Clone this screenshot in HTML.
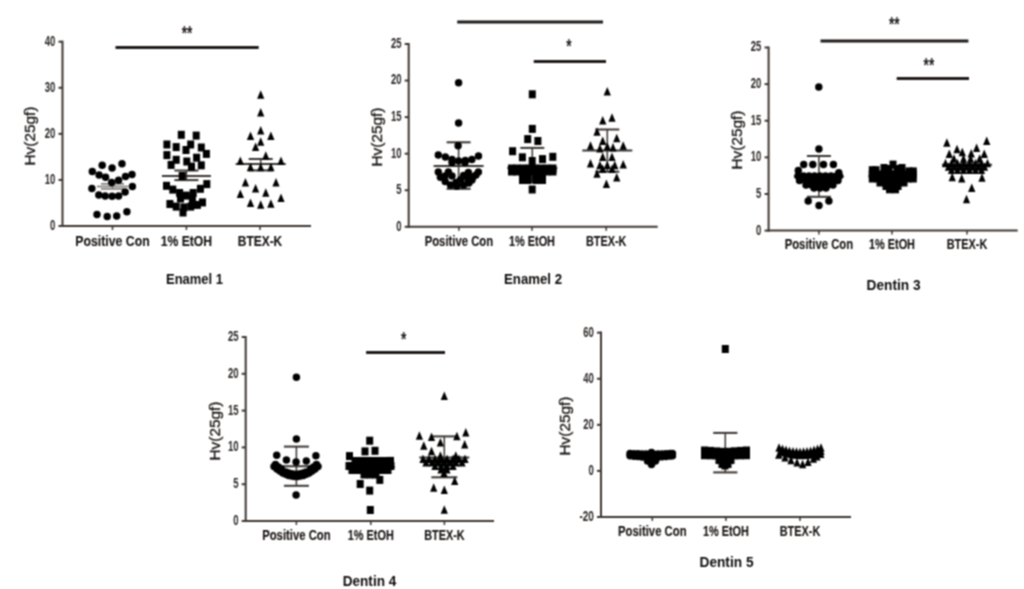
<!DOCTYPE html>
<html><head><meta charset="utf-8"><style>
html,body{margin:0;padding:0;background:#fff;}
body{width:1024px;height:589px;overflow:hidden;}
svg{display:block;}
text{font-family:"Liberation Sans", sans-serif;}
</style></head><body>
<svg width="1024" height="589" viewBox="0 0 1024 589">
<defs><filter id="bl" filterUnits="userSpaceOnUse" x="0" y="0" width="1024" height="589" color-interpolation-filters="sRGB"><feConvolveMatrix order="3" kernelMatrix="1 2 1 2 4 2 1 2 1" divisor="16" edgeMode="duplicate"/></filter></defs>
<g filter="url(#bl)">
<rect width="1024" height="589" fill="#fff"/>
<line x1="62.5" y1="40.7" x2="62.5" y2="227" stroke="#3d3531" stroke-width="2"/>
<line x1="61.5" y1="226" x2="311" y2="226" stroke="#3d3531" stroke-width="2"/>
<line x1="58.5" y1="226.0" x2="62.5" y2="226.0" stroke="#3d3531" stroke-width="2"/>
<text x="55.3" y="229.9" font-size="14.5" font-weight="bold" text-anchor="end" fill="#2b2725" textLength="5.3" lengthAdjust="spacingAndGlyphs" >0</text>
<line x1="58.5" y1="179.925" x2="62.5" y2="179.925" stroke="#3d3531" stroke-width="2"/>
<text x="55.3" y="183.82500000000002" font-size="14.5" font-weight="bold" text-anchor="end" fill="#2b2725" textLength="10.6" lengthAdjust="spacingAndGlyphs" >10</text>
<line x1="58.5" y1="133.85" x2="62.5" y2="133.85" stroke="#3d3531" stroke-width="2"/>
<text x="55.3" y="137.75" font-size="14.5" font-weight="bold" text-anchor="end" fill="#2b2725" textLength="10.6" lengthAdjust="spacingAndGlyphs" >20</text>
<line x1="58.5" y1="87.775" x2="62.5" y2="87.775" stroke="#3d3531" stroke-width="2"/>
<text x="55.3" y="91.67500000000001" font-size="14.5" font-weight="bold" text-anchor="end" fill="#2b2725" textLength="10.6" lengthAdjust="spacingAndGlyphs" >30</text>
<line x1="58.5" y1="41.69999999999999" x2="62.5" y2="41.69999999999999" stroke="#3d3531" stroke-width="2"/>
<text x="55.3" y="45.59999999999999" font-size="14.5" font-weight="bold" text-anchor="end" fill="#2b2725" textLength="10.6" lengthAdjust="spacingAndGlyphs" >40</text>
<line x1="112.5" y1="226" x2="112.5" y2="230" stroke="#3d3531" stroke-width="1.5"/>
<text x="112.5" y="246.3" font-size="14.5" font-weight="bold" text-anchor="middle" fill="#161311" textLength="74.5" lengthAdjust="spacingAndGlyphs" stroke="#161311" stroke-width="0.12">Positive Con</text>
<line x1="186.4" y1="226" x2="186.4" y2="230" stroke="#3d3531" stroke-width="1.5"/>
<text x="186.4" y="246.3" font-size="14.5" font-weight="bold" text-anchor="middle" fill="#161311" textLength="51.5" lengthAdjust="spacingAndGlyphs" stroke="#161311" stroke-width="0.12">1% EtOH</text>
<line x1="260" y1="226" x2="260" y2="230" stroke="#3d3531" stroke-width="1.5"/>
<text x="260" y="246.3" font-size="14.5" font-weight="bold" text-anchor="middle" fill="#161311" textLength="44.5" lengthAdjust="spacingAndGlyphs" stroke="#161311" stroke-width="0.12">BTEX-K</text>
<text x="194.5" y="284" font-size="15" font-weight="bold" text-anchor="middle" fill="#0e0c0b" textLength="57" lengthAdjust="spacingAndGlyphs" >Enamel 1</text>
<text x="29.5" y="136" font-size="15.5" font-weight="normal" stroke="#161311" stroke-width="0.3" text-anchor="middle" fill="#161311" transform="rotate(-90 29.5 136)" dominant-baseline="central" textLength="59" lengthAdjust="spacingAndGlyphs">Hv(25gf)</text>
<line x1="97.0" y1="186.5" x2="128.0" y2="186.5" stroke="#7d7672" stroke-width="1.6"/>
<line x1="101.0" y1="183.8" x2="124.0" y2="183.8" stroke="#7d7672" stroke-width="1.6"/>
<line x1="101.0" y1="188.9" x2="124.0" y2="188.9" stroke="#7d7672" stroke-width="1.6"/>
<line x1="112.5" y1="183.8" x2="112.5" y2="188.9" stroke="#7d7672" stroke-width="1.5"/>
<line x1="161.9" y1="175.9" x2="210.9" y2="175.9" stroke="#3a3430" stroke-width="2"/>
<line x1="174.4" y1="170.5" x2="198.4" y2="170.5" stroke="#3a3430" stroke-width="2"/>
<line x1="174.4" y1="180.1" x2="198.4" y2="180.1" stroke="#3a3430" stroke-width="2"/>
<line x1="186.4" y1="170.5" x2="186.4" y2="180.1" stroke="#3a3430" stroke-width="1.5"/>
<line x1="235.7" y1="164" x2="285.7" y2="164" stroke="#3a3430" stroke-width="2"/>
<line x1="248.7" y1="159" x2="272.7" y2="159" stroke="#3a3430" stroke-width="2"/>
<line x1="248.7" y1="170.4" x2="272.7" y2="170.4" stroke="#3a3430" stroke-width="2"/>
<line x1="260.7" y1="159" x2="260.7" y2="170.4" stroke="#3a3430" stroke-width="1.5"/>
<g fill="#000">
<ellipse cx="102.2" cy="165.3" rx="3.7" ry="3.75"/>
<ellipse cx="112.1" cy="168" rx="3.7" ry="3.75"/>
<ellipse cx="122" cy="163.8" rx="3.7" ry="3.75"/>
<ellipse cx="92.3" cy="171.5" rx="3.7" ry="3.75"/>
<ellipse cx="99.1" cy="174.9" rx="3.7" ry="3.75"/>
<ellipse cx="105.6" cy="177.2" rx="3.7" ry="3.75"/>
<ellipse cx="111.7" cy="182.5" rx="3.7" ry="3.75"/>
<ellipse cx="118.6" cy="180.2" rx="3.7" ry="3.75"/>
<ellipse cx="125.5" cy="176.4" rx="3.7" ry="3.75"/>
<ellipse cx="132" cy="174.5" rx="3.7" ry="3.75"/>
<ellipse cx="91.9" cy="188.6" rx="3.7" ry="3.75"/>
<ellipse cx="132.4" cy="186.4" rx="3.7" ry="3.75"/>
<ellipse cx="98.8" cy="195.1" rx="3.7" ry="3.75"/>
<ellipse cx="105.2" cy="195.9" rx="3.7" ry="3.75"/>
<ellipse cx="112.1" cy="196.3" rx="3.7" ry="3.75"/>
<ellipse cx="118.6" cy="195.9" rx="3.7" ry="3.75"/>
<ellipse cx="125.1" cy="192.1" rx="3.7" ry="3.75"/>
<ellipse cx="97" cy="214.6" rx="3.7" ry="3.75"/>
<ellipse cx="107.2" cy="216.6" rx="3.7" ry="3.75"/>
<ellipse cx="116.7" cy="216" rx="3.7" ry="3.75"/>
<ellipse cx="126.9" cy="211.8" rx="3.7" ry="3.75"/>
<rect x="177.8" y="130.8" width="7" height="8"/>
<rect x="192.7" y="131.6" width="7" height="8"/>
<rect x="163.4" y="140.5" width="7" height="8"/>
<rect x="172.7" y="143.1" width="7" height="8"/>
<rect x="187.2" y="140.5" width="7" height="8"/>
<rect x="197.8" y="143.5" width="7" height="8"/>
<rect x="182.5" y="146.0" width="7" height="8"/>
<rect x="163.4" y="151.1" width="7" height="8"/>
<rect x="202.9" y="149.9" width="7" height="8"/>
<rect x="172.7" y="155.8" width="7" height="8"/>
<rect x="193.1" y="153.7" width="7" height="8"/>
<rect x="183.3" y="157.5" width="7" height="8"/>
<rect x="167.6" y="160.9" width="7" height="8"/>
<rect x="197.8" y="161.3" width="7" height="8"/>
<rect x="188.0" y="162.6" width="7" height="8"/>
<rect x="178.7" y="172.0" width="7" height="8"/>
<rect x="163.0" y="181.8" width="7" height="8"/>
<rect x="203.3" y="180.1" width="7" height="8"/>
<rect x="169.3" y="185.6" width="7" height="8"/>
<rect x="196.9" y="184.8" width="7" height="8"/>
<rect x="176.1" y="189.0" width="7" height="8"/>
<rect x="189.7" y="189.0" width="7" height="8"/>
<rect x="182.9" y="191.6" width="7" height="8"/>
<rect x="177.0" y="194.5" width="7" height="8"/>
<rect x="188.9" y="195.0" width="7" height="8"/>
<rect x="166.4" y="200.0" width="7" height="8"/>
<rect x="199.0" y="198.4" width="7" height="8"/>
<rect x="172.7" y="202.6" width="7" height="8"/>
<rect x="180.4" y="203.4" width="7" height="8"/>
<rect x="187.2" y="202.6" width="7" height="8"/>
<rect x="193.9" y="200.9" width="7" height="8"/>
<rect x="179.5" y="208.5" width="7" height="8"/>
<path d="M260.7 90.2L264.3 98.7L257.1 98.7Z"/>
<path d="M260.7 108.0L264.3 116.5L257.1 116.5Z"/>
<path d="M260.7 125.9L264.3 134.4L257.1 134.4Z"/>
<path d="M250.5 131.5L254.2 140.0L246.8 140.0Z"/>
<path d="M270.9 131.5L274.5 140.0L267.2 140.0Z"/>
<path d="M260.7 137.3L264.3 145.8L257.1 145.8Z"/>
<path d="M255.6 142.4L259.2 150.9L251.9 150.9Z"/>
<path d="M240.3 156.4L244.0 164.9L236.7 164.9Z"/>
<path d="M265.8 151.3L269.4 159.8L262.2 159.8Z"/>
<path d="M281.0 156.4L284.6 164.9L277.4 164.9Z"/>
<path d="M250.5 162.8L254.2 171.3L246.8 171.3Z"/>
<path d="M260.7 162.8L264.3 171.3L257.1 171.3Z"/>
<path d="M270.9 162.8L274.5 171.3L267.2 171.3Z"/>
<path d="M245.4 178.1L249.1 186.6L241.8 186.6Z"/>
<path d="M276.0 178.1L279.6 186.6L272.4 186.6Z"/>
<path d="M255.6 183.9L259.2 192.4L251.9 192.4Z"/>
<path d="M265.8 188.3L269.4 196.8L262.2 196.8Z"/>
<path d="M240.3 189.5L244.0 198.0L236.7 198.0Z"/>
<path d="M250.5 198.5L254.2 207.0L246.8 207.0Z"/>
<path d="M260.7 200.2L264.3 208.7L257.1 208.7Z"/>
<path d="M270.9 199.2L274.5 207.7L267.2 207.7Z"/>
<path d="M281.0 193.4L284.6 201.9L277.4 201.9Z"/>
</g>
<line x1="115.5" y1="47.5" x2="258.7" y2="47.5" stroke="#1e1a18" stroke-width="3"/>
<text x="187.1" y="39.7" font-size="20" font-weight="bold" text-anchor="middle" fill="#1e1a18" textLength="10.6" lengthAdjust="spacingAndGlyphs" >**</text>
<line x1="408.7" y1="43" x2="408.7" y2="227.8" stroke="#3d3531" stroke-width="2"/>
<line x1="407.7" y1="226.8" x2="657.7" y2="226.8" stroke="#3d3531" stroke-width="2"/>
<line x1="404.7" y1="226.8" x2="408.7" y2="226.8" stroke="#3d3531" stroke-width="2"/>
<text x="401.5" y="230.70000000000002" font-size="14.5" font-weight="bold" text-anchor="end" fill="#2b2725" textLength="5.3" lengthAdjust="spacingAndGlyphs" >0</text>
<line x1="404.7" y1="190.24" x2="408.7" y2="190.24" stroke="#3d3531" stroke-width="2"/>
<text x="401.5" y="194.14000000000001" font-size="14.5" font-weight="bold" text-anchor="end" fill="#2b2725" textLength="5.3" lengthAdjust="spacingAndGlyphs" >5</text>
<line x1="404.7" y1="153.68" x2="408.7" y2="153.68" stroke="#3d3531" stroke-width="2"/>
<text x="401.5" y="157.58" font-size="14.5" font-weight="bold" text-anchor="end" fill="#2b2725" textLength="10.6" lengthAdjust="spacingAndGlyphs" >10</text>
<line x1="404.7" y1="117.12" x2="408.7" y2="117.12" stroke="#3d3531" stroke-width="2"/>
<text x="401.5" y="121.02000000000001" font-size="14.5" font-weight="bold" text-anchor="end" fill="#2b2725" textLength="10.6" lengthAdjust="spacingAndGlyphs" >15</text>
<line x1="404.7" y1="80.56" x2="408.7" y2="80.56" stroke="#3d3531" stroke-width="2"/>
<text x="401.5" y="84.46000000000001" font-size="14.5" font-weight="bold" text-anchor="end" fill="#2b2725" textLength="10.6" lengthAdjust="spacingAndGlyphs" >20</text>
<line x1="404.7" y1="44.0" x2="408.7" y2="44.0" stroke="#3d3531" stroke-width="2"/>
<text x="401.5" y="47.9" font-size="14.5" font-weight="bold" text-anchor="end" fill="#2b2725" textLength="10.6" lengthAdjust="spacingAndGlyphs" >25</text>
<line x1="458.9" y1="226.8" x2="458.9" y2="230.8" stroke="#3d3531" stroke-width="1.5"/>
<text x="458.9" y="246" font-size="14.5" font-weight="bold" text-anchor="middle" fill="#161311" textLength="68.5" lengthAdjust="spacingAndGlyphs" stroke="#161311" stroke-width="0.12">Positive Con</text>
<line x1="532" y1="226.8" x2="532" y2="230.8" stroke="#3d3531" stroke-width="1.5"/>
<text x="532" y="246" font-size="14.5" font-weight="bold" text-anchor="middle" fill="#161311" textLength="46" lengthAdjust="spacingAndGlyphs" stroke="#161311" stroke-width="0.12">1% EtOH</text>
<line x1="606.2" y1="226.8" x2="606.2" y2="230.8" stroke="#3d3531" stroke-width="1.5"/>
<text x="606.2" y="246" font-size="14.5" font-weight="bold" text-anchor="middle" fill="#161311" textLength="40.5" lengthAdjust="spacingAndGlyphs" stroke="#161311" stroke-width="0.12">BTEX-K</text>
<text x="533" y="284" font-size="15" font-weight="bold" text-anchor="middle" fill="#0e0c0b" textLength="58" lengthAdjust="spacingAndGlyphs" >Enamel 2</text>
<text x="376.3" y="137" font-size="15.5" font-weight="normal" stroke="#161311" stroke-width="0.3" text-anchor="middle" fill="#161311" transform="rotate(-90 376.3 137)" dominant-baseline="central" textLength="59" lengthAdjust="spacingAndGlyphs">Hv(25gf)</text>
<line x1="507.29999999999995" y1="168" x2="557.3" y2="168" stroke="#3a3430" stroke-width="2"/>
<line x1="520.3" y1="147.9" x2="544.3" y2="147.9" stroke="#3a3430" stroke-width="2"/>
<line x1="520.3" y1="182" x2="544.3" y2="182" stroke="#3a3430" stroke-width="2"/>
<line x1="532.3" y1="147.9" x2="532.3" y2="182" stroke="#3a3430" stroke-width="1.5"/>
<line x1="433.6" y1="166" x2="483.6" y2="166" stroke="#3a3430" stroke-width="2"/>
<line x1="446.6" y1="142.3" x2="470.6" y2="142.3" stroke="#3a3430" stroke-width="2"/>
<line x1="446.6" y1="188.8" x2="470.6" y2="188.8" stroke="#3a3430" stroke-width="2"/>
<line x1="458.6" y1="142.3" x2="458.6" y2="188.8" stroke="#3a3430" stroke-width="1.5"/>
<line x1="582.3" y1="150.6" x2="632.3" y2="150.6" stroke="#3a3430" stroke-width="2"/>
<line x1="595.3" y1="129.5" x2="619.3" y2="129.5" stroke="#3a3430" stroke-width="2"/>
<line x1="595.3" y1="171.7" x2="619.3" y2="171.7" stroke="#3a3430" stroke-width="2"/>
<line x1="607.3" y1="129.5" x2="607.3" y2="171.7" stroke="#3a3430" stroke-width="1.5"/>
<g fill="#000">
<ellipse cx="458.6" cy="82.8" rx="3.7" ry="3.75"/>
<ellipse cx="458.6" cy="123" rx="3.7" ry="3.75"/>
<ellipse cx="458.1" cy="145.7" rx="3.7" ry="3.75"/>
<ellipse cx="438.3" cy="154.9" rx="3.7" ry="3.75"/>
<ellipse cx="445.4" cy="156.9" rx="3.7" ry="3.75"/>
<ellipse cx="452" cy="159.5" rx="3.7" ry="3.75"/>
<ellipse cx="458.6" cy="161" rx="3.7" ry="3.75"/>
<ellipse cx="465.3" cy="160.5" rx="3.7" ry="3.75"/>
<ellipse cx="471.9" cy="159.5" rx="3.7" ry="3.75"/>
<ellipse cx="478.5" cy="155.9" rx="3.7" ry="3.75"/>
<ellipse cx="452" cy="162.5" rx="3.7" ry="3.75"/>
<ellipse cx="465" cy="162.5" rx="3.7" ry="3.75"/>
<ellipse cx="438.3" cy="171.9" rx="3.7" ry="3.75"/>
<ellipse cx="448.4" cy="171.9" rx="3.7" ry="3.75"/>
<ellipse cx="468.4" cy="172.4" rx="3.7" ry="3.75"/>
<ellipse cx="478.4" cy="171.9" rx="3.7" ry="3.75"/>
<ellipse cx="440.4" cy="177.2" rx="3.7" ry="3.75"/>
<ellipse cx="452" cy="176.1" rx="3.7" ry="3.75"/>
<ellipse cx="463.6" cy="175.6" rx="3.7" ry="3.75"/>
<ellipse cx="473.1" cy="176.7" rx="3.7" ry="3.75"/>
<ellipse cx="445.2" cy="181.4" rx="3.7" ry="3.75"/>
<ellipse cx="460.5" cy="179.8" rx="3.7" ry="3.75"/>
<ellipse cx="467.9" cy="179.3" rx="3.7" ry="3.75"/>
<ellipse cx="450.5" cy="185.1" rx="3.7" ry="3.75"/>
<ellipse cx="456.8" cy="186.2" rx="3.7" ry="3.75"/>
<ellipse cx="463.6" cy="185.1" rx="3.7" ry="3.75"/>
<ellipse cx="468.9" cy="183" rx="3.7" ry="3.75"/>
<ellipse cx="445" cy="176" rx="3.7" ry="3.75"/>
<ellipse cx="456" cy="182.5" rx="3.7" ry="3.75"/>
<ellipse cx="472" cy="180" rx="3.7" ry="3.75"/>
<ellipse cx="476" cy="175" rx="3.7" ry="3.75"/>
<rect x="528.8" y="90.3" width="7" height="8"/>
<rect x="528.8" y="124.9" width="7" height="8"/>
<rect x="524.2" y="135.1" width="7" height="8"/>
<rect x="534.4" y="137.0" width="7" height="8"/>
<rect x="509.1" y="147.2" width="7" height="8"/>
<rect x="518.9" y="153.3" width="7" height="8"/>
<rect x="539.0" y="155.1" width="7" height="8"/>
<rect x="549.3" y="152.8" width="7" height="8"/>
<rect x="528.7" y="157.0" width="7" height="8"/>
<rect x="528.7" y="185.5" width="7" height="8"/>
<rect x="508.0" y="164.5" width="7" height="8"/>
<rect x="513.5" y="164.5" width="7" height="8"/>
<rect x="519.5" y="164.5" width="7" height="8"/>
<rect x="525.5" y="164.5" width="7" height="8"/>
<rect x="531.5" y="164.5" width="7" height="8"/>
<rect x="537.5" y="164.5" width="7" height="8"/>
<rect x="543.5" y="164.5" width="7" height="8"/>
<rect x="549.5" y="164.5" width="7" height="8"/>
<rect x="508.0" y="167.5" width="7" height="8"/>
<rect x="513.5" y="167.5" width="7" height="8"/>
<rect x="519.5" y="167.5" width="7" height="8"/>
<rect x="525.5" y="167.5" width="7" height="8"/>
<rect x="531.5" y="167.5" width="7" height="8"/>
<rect x="537.5" y="167.5" width="7" height="8"/>
<rect x="543.5" y="167.5" width="7" height="8"/>
<rect x="549.5" y="167.5" width="7" height="8"/>
<rect x="519.0" y="173.0" width="7" height="8"/>
<rect x="524.5" y="173.0" width="7" height="8"/>
<rect x="532.5" y="173.0" width="7" height="8"/>
<rect x="539.0" y="173.0" width="7" height="8"/>
<rect x="519.0" y="176.0" width="7" height="8"/>
<rect x="524.5" y="176.0" width="7" height="8"/>
<rect x="532.5" y="176.0" width="7" height="8"/>
<rect x="539.0" y="176.0" width="7" height="8"/>
<path d="M607.3 87.0L610.9 95.5L603.6 95.5Z"/>
<path d="M602.7 116.0L606.4 124.5L599.1 124.5Z"/>
<path d="M612.0 113.2L615.6 121.7L608.4 121.7Z"/>
<path d="M597.0 127.2L600.6 135.7L593.4 135.7Z"/>
<path d="M602.7 136.5L606.4 145.0L599.1 145.0Z"/>
<path d="M616.7 133.7L620.4 142.2L613.1 142.2Z"/>
<path d="M590.5 141.2L594.1 149.7L586.9 149.7Z"/>
<path d="M623.2 141.2L626.9 149.7L619.6 149.7Z"/>
<path d="M599.9 143.9L603.5 152.4L596.2 152.4Z"/>
<path d="M613.0 143.0L616.6 151.5L609.4 151.5Z"/>
<path d="M607.3 142.1L610.9 150.6L603.6 150.6Z"/>
<path d="M602.7 152.4L606.4 160.9L599.1 160.9Z"/>
<path d="M612.0 152.4L615.6 160.9L608.4 160.9Z"/>
<path d="M590.5 158.9L594.1 167.4L586.9 167.4Z"/>
<path d="M623.2 159.9L626.9 168.4L619.6 168.4Z"/>
<path d="M599.9 160.8L603.5 169.3L596.2 169.3Z"/>
<path d="M607.3 160.8L610.9 169.3L603.6 169.3Z"/>
<path d="M614.8 160.8L618.4 169.3L611.1 169.3Z"/>
<path d="M602.7 164.5L606.4 173.0L599.1 173.0Z"/>
<path d="M612.0 164.5L615.6 173.0L608.4 173.0Z"/>
<path d="M597.0 169.2L600.6 177.7L593.4 177.7Z"/>
<path d="M616.7 172.9L620.4 181.4L613.1 181.4Z"/>
<path d="M606.4 179.4L610.0 187.9L602.8 187.9Z"/>
</g>
<line x1="457.2" y1="22" x2="603" y2="22" stroke="#1e1a18" stroke-width="3"/>
<line x1="533.75" y1="61.6" x2="606" y2="61.6" stroke="#1e1a18" stroke-width="3"/>
<text x="569" y="53.2" font-size="20" font-weight="bold" text-anchor="middle" fill="#1e1a18" textLength="5.3" lengthAdjust="spacingAndGlyphs" >*</text>
<line x1="768.6" y1="46.5" x2="768.6" y2="231.6" stroke="#3d3531" stroke-width="2"/>
<line x1="767.6" y1="230.6" x2="1017.7" y2="230.6" stroke="#3d3531" stroke-width="2"/>
<line x1="764.6" y1="230.6" x2="768.6" y2="230.6" stroke="#3d3531" stroke-width="2"/>
<text x="761.4" y="234.5" font-size="14.5" font-weight="bold" text-anchor="end" fill="#2b2725" textLength="5.3" lengthAdjust="spacingAndGlyphs" >0</text>
<line x1="764.6" y1="193.98" x2="768.6" y2="193.98" stroke="#3d3531" stroke-width="2"/>
<text x="761.4" y="197.88" font-size="14.5" font-weight="bold" text-anchor="end" fill="#2b2725" textLength="5.3" lengthAdjust="spacingAndGlyphs" >5</text>
<line x1="764.6" y1="157.36" x2="768.6" y2="157.36" stroke="#3d3531" stroke-width="2"/>
<text x="761.4" y="161.26000000000002" font-size="14.5" font-weight="bold" text-anchor="end" fill="#2b2725" textLength="10.6" lengthAdjust="spacingAndGlyphs" >10</text>
<line x1="764.6" y1="120.74" x2="768.6" y2="120.74" stroke="#3d3531" stroke-width="2"/>
<text x="761.4" y="124.64" font-size="14.5" font-weight="bold" text-anchor="end" fill="#2b2725" textLength="10.6" lengthAdjust="spacingAndGlyphs" >15</text>
<line x1="764.6" y1="84.12" x2="768.6" y2="84.12" stroke="#3d3531" stroke-width="2"/>
<text x="761.4" y="88.02000000000001" font-size="14.5" font-weight="bold" text-anchor="end" fill="#2b2725" textLength="10.6" lengthAdjust="spacingAndGlyphs" >20</text>
<line x1="764.6" y1="47.5" x2="768.6" y2="47.5" stroke="#3d3531" stroke-width="2"/>
<text x="761.4" y="51.4" font-size="14.5" font-weight="bold" text-anchor="end" fill="#2b2725" textLength="10.6" lengthAdjust="spacingAndGlyphs" >25</text>
<line x1="818.9" y1="230.6" x2="818.9" y2="234.6" stroke="#3d3531" stroke-width="1.5"/>
<text x="818.9" y="249" font-size="14.5" font-weight="bold" text-anchor="middle" fill="#161311" textLength="68.5" lengthAdjust="spacingAndGlyphs" stroke="#161311" stroke-width="0.12">Positive Con</text>
<line x1="892" y1="230.6" x2="892" y2="234.6" stroke="#3d3531" stroke-width="1.5"/>
<text x="892" y="249" font-size="14.5" font-weight="bold" text-anchor="middle" fill="#161311" textLength="46" lengthAdjust="spacingAndGlyphs" stroke="#161311" stroke-width="0.12">1% EtOH</text>
<line x1="967" y1="230.6" x2="967" y2="234.6" stroke="#3d3531" stroke-width="1.5"/>
<text x="967" y="249" font-size="14.5" font-weight="bold" text-anchor="middle" fill="#161311" textLength="40.5" lengthAdjust="spacingAndGlyphs" stroke="#161311" stroke-width="0.12">BTEX-K</text>
<text x="893.6" y="290.2" font-size="15" font-weight="bold" text-anchor="middle" fill="#0e0c0b" textLength="54" lengthAdjust="spacingAndGlyphs" >Dentin 3</text>
<text x="736.0" y="140" font-size="15.5" font-weight="normal" stroke="#161311" stroke-width="0.3" text-anchor="middle" fill="#161311" transform="rotate(-90 736.0 140)" dominant-baseline="central" textLength="59" lengthAdjust="spacingAndGlyphs">Hv(25gf)</text>
<line x1="793.9" y1="176.6" x2="843.9" y2="176.6" stroke="#3a3430" stroke-width="2"/>
<line x1="806.9" y1="156" x2="830.9" y2="156" stroke="#3a3430" stroke-width="2"/>
<line x1="806.9" y1="196.8" x2="830.9" y2="196.8" stroke="#3a3430" stroke-width="2"/>
<line x1="818.9" y1="156" x2="818.9" y2="196.8" stroke="#3a3430" stroke-width="1.5"/>
<line x1="868.5" y1="176" x2="915.5" y2="176" stroke="#3a3430" stroke-width="2"/>
<line x1="942.0" y1="164.7" x2="992.0" y2="164.7" stroke="#3a3430" stroke-width="2"/>
<g fill="#000">
<ellipse cx="818.8" cy="87" rx="3.7" ry="3.75"/>
<ellipse cx="818.9" cy="149.1" rx="3.7" ry="3.75"/>
<ellipse cx="803.7" cy="164.4" rx="3.7" ry="3.75"/>
<ellipse cx="812.8" cy="164.4" rx="3.7" ry="3.75"/>
<ellipse cx="823.5" cy="164.4" rx="3.7" ry="3.75"/>
<ellipse cx="833.4" cy="164.4" rx="3.7" ry="3.75"/>
<ellipse cx="798.3" cy="170.5" rx="3.7" ry="3.75"/>
<ellipse cx="838.8" cy="172.7" rx="3.7" ry="3.75"/>
<ellipse cx="808.2" cy="201" rx="3.7" ry="3.75"/>
<ellipse cx="819" cy="205.6" rx="3.7" ry="3.75"/>
<ellipse cx="828.9" cy="201" rx="3.7" ry="3.75"/>
<ellipse cx="798" cy="176" rx="3.7" ry="3.75"/>
<ellipse cx="803.5" cy="176" rx="3.7" ry="3.75"/>
<ellipse cx="809" cy="176" rx="3.7" ry="3.75"/>
<ellipse cx="814.5" cy="176" rx="3.7" ry="3.75"/>
<ellipse cx="820" cy="176" rx="3.7" ry="3.75"/>
<ellipse cx="825.5" cy="176" rx="3.7" ry="3.75"/>
<ellipse cx="831" cy="176" rx="3.7" ry="3.75"/>
<ellipse cx="836.5" cy="176" rx="3.7" ry="3.75"/>
<ellipse cx="839.5" cy="176" rx="3.7" ry="3.75"/>
<ellipse cx="799.5" cy="180.5" rx="3.7" ry="3.75"/>
<ellipse cx="805.5" cy="180.5" rx="3.7" ry="3.75"/>
<ellipse cx="811" cy="180.5" rx="3.7" ry="3.75"/>
<ellipse cx="816.5" cy="180.5" rx="3.7" ry="3.75"/>
<ellipse cx="822" cy="180.5" rx="3.7" ry="3.75"/>
<ellipse cx="827.5" cy="180.5" rx="3.7" ry="3.75"/>
<ellipse cx="833" cy="180.5" rx="3.7" ry="3.75"/>
<ellipse cx="838" cy="180.5" rx="3.7" ry="3.75"/>
<ellipse cx="806" cy="185" rx="3.7" ry="3.75"/>
<ellipse cx="811.5" cy="185" rx="3.7" ry="3.75"/>
<ellipse cx="817" cy="185" rx="3.7" ry="3.75"/>
<ellipse cx="822.5" cy="185" rx="3.7" ry="3.75"/>
<ellipse cx="828" cy="185" rx="3.7" ry="3.75"/>
<ellipse cx="833" cy="185" rx="3.7" ry="3.75"/>
<ellipse cx="814" cy="188" rx="3.7" ry="3.75"/>
<ellipse cx="820" cy="188" rx="3.7" ry="3.75"/>
<ellipse cx="826" cy="188" rx="3.7" ry="3.75"/>
<rect x="889.5" y="160.6" width="7" height="8"/>
<rect x="880.5" y="164.0" width="7" height="8"/>
<rect x="898.5" y="164.0" width="7" height="8"/>
<rect x="868.8" y="166.2" width="7" height="8"/>
<rect x="872.5" y="166.2" width="7" height="8"/>
<rect x="905.5" y="167.4" width="7" height="8"/>
<rect x="909.8" y="167.4" width="7" height="8"/>
<rect x="885.5" y="165.0" width="7" height="8"/>
<rect x="893.5" y="165.0" width="7" height="8"/>
<rect x="868.8" y="170.5" width="7" height="8"/>
<rect x="874.5" y="170.5" width="7" height="8"/>
<rect x="880.5" y="170.5" width="7" height="8"/>
<rect x="886.5" y="170.5" width="7" height="8"/>
<rect x="892.5" y="170.5" width="7" height="8"/>
<rect x="898.5" y="170.5" width="7" height="8"/>
<rect x="904.5" y="170.5" width="7" height="8"/>
<rect x="909.8" y="170.5" width="7" height="8"/>
<rect x="868.8" y="174.5" width="7" height="8"/>
<rect x="874.5" y="174.5" width="7" height="8"/>
<rect x="880.5" y="174.5" width="7" height="8"/>
<rect x="886.5" y="174.5" width="7" height="8"/>
<rect x="892.5" y="174.5" width="7" height="8"/>
<rect x="898.5" y="174.5" width="7" height="8"/>
<rect x="904.5" y="174.5" width="7" height="8"/>
<rect x="909.8" y="174.5" width="7" height="8"/>
<rect x="876.5" y="178.5" width="7" height="8"/>
<rect x="882.5" y="178.5" width="7" height="8"/>
<rect x="888.5" y="178.5" width="7" height="8"/>
<rect x="894.5" y="178.5" width="7" height="8"/>
<rect x="900.5" y="178.5" width="7" height="8"/>
<rect x="882.5" y="182.0" width="7" height="8"/>
<rect x="888.5" y="182.0" width="7" height="8"/>
<rect x="894.5" y="182.0" width="7" height="8"/>
<rect x="886.0" y="185.3" width="7" height="8"/>
<rect x="892.0" y="185.3" width="7" height="8"/>
<path d="M946.9 138.2L950.5 146.7L943.2 146.7Z"/>
<path d="M986.7 136.4L990.4 144.9L983.1 144.9Z"/>
<path d="M957.0 144.8L960.6 153.3L953.4 153.3Z"/>
<path d="M976.6 143.6L980.2 152.1L973.0 152.1Z"/>
<path d="M949.3 149.5L952.9 158.0L945.6 158.0Z"/>
<path d="M962.3 147.7L965.9 156.2L958.6 156.2Z"/>
<path d="M971.2 148.9L974.9 157.4L967.6 157.4Z"/>
<path d="M984.3 149.5L987.9 158.0L980.6 158.0Z"/>
<path d="M954.0 154.3L957.6 162.8L950.4 162.8Z"/>
<path d="M963.5 154.3L967.1 162.8L959.9 162.8Z"/>
<path d="M970.6 154.3L974.2 162.8L967.0 162.8Z"/>
<path d="M979.6 154.3L983.2 162.8L976.0 162.8Z"/>
<path d="M952.2 172.7L955.9 181.2L948.6 181.2Z"/>
<path d="M961.7 173.9L965.4 182.4L958.1 182.4Z"/>
<path d="M982.0 173.3L985.6 181.8L978.4 181.8Z"/>
<path d="M971.8 183.4L975.4 191.9L968.1 191.9Z"/>
<path d="M966.5 194.7L970.1 203.2L962.9 203.2Z"/>
<path d="M945.5 158.7L949.1 167.2L941.9 167.2Z"/>
<path d="M951.5 158.7L955.1 167.2L947.9 167.2Z"/>
<path d="M957.5 158.7L961.1 167.2L953.9 167.2Z"/>
<path d="M963.5 158.7L967.1 167.2L959.9 167.2Z"/>
<path d="M969.5 158.7L973.1 167.2L965.9 167.2Z"/>
<path d="M975.5 158.7L979.1 167.2L971.9 167.2Z"/>
<path d="M981.5 158.7L985.1 167.2L977.9 167.2Z"/>
<path d="M987.5 158.7L991.1 167.2L983.9 167.2Z"/>
<path d="M948.5 162.2L952.1 170.7L944.9 170.7Z"/>
<path d="M954.5 162.2L958.1 170.7L950.9 170.7Z"/>
<path d="M960.5 162.2L964.1 170.7L956.9 170.7Z"/>
<path d="M966.5 162.2L970.1 170.7L962.9 170.7Z"/>
<path d="M972.5 162.2L976.1 170.7L968.9 170.7Z"/>
<path d="M978.5 162.2L982.1 170.7L974.9 170.7Z"/>
<path d="M984.5 162.2L988.1 170.7L980.9 170.7Z"/>
<path d="M951.5 165.4L955.1 173.9L947.9 173.9Z"/>
<path d="M957.5 165.4L961.1 173.9L953.9 173.9Z"/>
<path d="M963.5 165.4L967.1 173.9L959.9 173.9Z"/>
<path d="M969.5 165.4L973.1 173.9L965.9 173.9Z"/>
<path d="M975.5 165.4L979.1 173.9L971.9 173.9Z"/>
<path d="M981.5 165.4L985.1 173.9L977.9 173.9Z"/>
</g>
<line x1="820.5" y1="40.9" x2="968.4" y2="40.9" stroke="#1e1a18" stroke-width="3"/>
<text x="894.3" y="30.9" font-size="20" font-weight="bold" text-anchor="middle" fill="#1e1a18" textLength="10.6" lengthAdjust="spacingAndGlyphs" >**</text>
<line x1="896.7" y1="78.4" x2="969" y2="78.4" stroke="#1e1a18" stroke-width="3"/>
<text x="928.9" y="72.0" font-size="20" font-weight="bold" text-anchor="middle" fill="#1e1a18" textLength="10.6" lengthAdjust="spacingAndGlyphs" >**</text>
<line x1="245.7" y1="336" x2="245.7" y2="522" stroke="#3d3531" stroke-width="2"/>
<line x1="244.7" y1="521" x2="494" y2="521" stroke="#3d3531" stroke-width="2"/>
<line x1="241.7" y1="521.0" x2="245.7" y2="521.0" stroke="#3d3531" stroke-width="2"/>
<text x="238.5" y="524.9" font-size="14.5" font-weight="bold" text-anchor="end" fill="#2b2725" textLength="5.3" lengthAdjust="spacingAndGlyphs" >0</text>
<line x1="241.7" y1="484.2" x2="245.7" y2="484.2" stroke="#3d3531" stroke-width="2"/>
<text x="238.5" y="488.09999999999997" font-size="14.5" font-weight="bold" text-anchor="end" fill="#2b2725" textLength="5.3" lengthAdjust="spacingAndGlyphs" >5</text>
<line x1="241.7" y1="447.4" x2="245.7" y2="447.4" stroke="#3d3531" stroke-width="2"/>
<text x="238.5" y="451.29999999999995" font-size="14.5" font-weight="bold" text-anchor="end" fill="#2b2725" textLength="10.6" lengthAdjust="spacingAndGlyphs" >10</text>
<line x1="241.7" y1="410.6" x2="245.7" y2="410.6" stroke="#3d3531" stroke-width="2"/>
<text x="238.5" y="414.5" font-size="14.5" font-weight="bold" text-anchor="end" fill="#2b2725" textLength="10.6" lengthAdjust="spacingAndGlyphs" >15</text>
<line x1="241.7" y1="373.79999999999995" x2="245.7" y2="373.79999999999995" stroke="#3d3531" stroke-width="2"/>
<text x="238.5" y="377.69999999999993" font-size="14.5" font-weight="bold" text-anchor="end" fill="#2b2725" textLength="10.6" lengthAdjust="spacingAndGlyphs" >20</text>
<line x1="241.7" y1="337.0" x2="245.7" y2="337.0" stroke="#3d3531" stroke-width="2"/>
<text x="238.5" y="340.9" font-size="14.5" font-weight="bold" text-anchor="end" fill="#2b2725" textLength="10.6" lengthAdjust="spacingAndGlyphs" >25</text>
<line x1="296.4" y1="521" x2="296.4" y2="525" stroke="#3d3531" stroke-width="1.5"/>
<text x="296.4" y="540" font-size="14.5" font-weight="bold" text-anchor="middle" fill="#161311" textLength="68.5" lengthAdjust="spacingAndGlyphs" stroke="#161311" stroke-width="0.12">Positive Con</text>
<line x1="370.8" y1="521" x2="370.8" y2="525" stroke="#3d3531" stroke-width="1.5"/>
<text x="370.8" y="540" font-size="14.5" font-weight="bold" text-anchor="middle" fill="#161311" textLength="46" lengthAdjust="spacingAndGlyphs" stroke="#161311" stroke-width="0.12">1% EtOH</text>
<line x1="444.4" y1="521" x2="444.4" y2="525" stroke="#3d3531" stroke-width="1.5"/>
<text x="444.4" y="540" font-size="14.5" font-weight="bold" text-anchor="middle" fill="#161311" textLength="40.5" lengthAdjust="spacingAndGlyphs" stroke="#161311" stroke-width="0.12">BTEX-K</text>
<text x="369.5" y="585.5" font-size="15" font-weight="bold" text-anchor="middle" fill="#0e0c0b" textLength="53.5" lengthAdjust="spacingAndGlyphs" >Dentin 4</text>
<text x="214.7" y="431" font-size="15.5" font-weight="normal" stroke="#161311" stroke-width="0.3" text-anchor="middle" fill="#161311" transform="rotate(-90 214.7 431)" dominant-baseline="central" textLength="59" lengthAdjust="spacingAndGlyphs">Hv(25gf)</text>
<line x1="271.4" y1="466.2" x2="321.4" y2="466.2" stroke="#3a3430" stroke-width="2"/>
<line x1="283.9" y1="446.6" x2="308.9" y2="446.6" stroke="#3a3430" stroke-width="2"/>
<line x1="283.9" y1="485.8" x2="308.9" y2="485.8" stroke="#3a3430" stroke-width="2"/>
<line x1="296.4" y1="446.6" x2="296.4" y2="485.8" stroke="#3a3430" stroke-width="1.5"/>
<line x1="346.8" y1="467" x2="394.8" y2="467" stroke="#3a3430" stroke-width="2"/>
<line x1="419.3" y1="457.4" x2="469.3" y2="457.4" stroke="#3a3430" stroke-width="2"/>
<line x1="431.3" y1="436.4" x2="457.3" y2="436.4" stroke="#3a3430" stroke-width="2"/>
<line x1="431.3" y1="477.3" x2="457.3" y2="477.3" stroke="#3a3430" stroke-width="2"/>
<line x1="444.3" y1="436.4" x2="444.3" y2="477.3" stroke="#3a3430" stroke-width="1.5"/>
<g fill="#000">
<ellipse cx="296.4" cy="377.3" rx="3.7" ry="3.75"/>
<ellipse cx="296.4" cy="438.9" rx="3.7" ry="3.75"/>
<ellipse cx="276.7" cy="455.3" rx="3.7" ry="3.75"/>
<ellipse cx="286.4" cy="459.9" rx="3.7" ry="3.75"/>
<ellipse cx="296.1" cy="461.9" rx="3.7" ry="3.75"/>
<ellipse cx="306.3" cy="460.9" rx="3.7" ry="3.75"/>
<ellipse cx="315.9" cy="455.8" rx="3.7" ry="3.75"/>
<ellipse cx="296.1" cy="495" rx="3.7" ry="3.75"/>
<ellipse cx="274.0" cy="466.5" rx="3.7" ry="3.75"/>
<ellipse cx="275.5" cy="464.5" rx="3.7" ry="3.75"/>
<ellipse cx="276.93333333333334" cy="468.9888888888889" rx="3.7" ry="3.75"/>
<ellipse cx="278.43333333333334" cy="466.9888888888889" rx="3.7" ry="3.75"/>
<ellipse cx="279.8666666666667" cy="471.1222222222222" rx="3.7" ry="3.75"/>
<ellipse cx="281.3666666666667" cy="469.1222222222222" rx="3.7" ry="3.75"/>
<ellipse cx="282.8" cy="472.9" rx="3.7" ry="3.75"/>
<ellipse cx="285.73333333333335" cy="474.32222222222225" rx="3.7" ry="3.75"/>
<ellipse cx="285.73333333333335" cy="472.02222222222224" rx="3.7" ry="3.75"/>
<ellipse cx="288.6666666666667" cy="475.3888888888889" rx="3.7" ry="3.75"/>
<ellipse cx="288.6666666666667" cy="473.0888888888889" rx="3.7" ry="3.75"/>
<ellipse cx="291.6" cy="476.1" rx="3.7" ry="3.75"/>
<ellipse cx="291.6" cy="473.8" rx="3.7" ry="3.75"/>
<ellipse cx="294.53333333333336" cy="476.4555555555556" rx="3.7" ry="3.75"/>
<ellipse cx="294.53333333333336" cy="474.15555555555557" rx="3.7" ry="3.75"/>
<ellipse cx="297.46666666666664" cy="476.4555555555556" rx="3.7" ry="3.75"/>
<ellipse cx="297.46666666666664" cy="474.15555555555557" rx="3.7" ry="3.75"/>
<ellipse cx="300.4" cy="476.1" rx="3.7" ry="3.75"/>
<ellipse cx="300.4" cy="473.8" rx="3.7" ry="3.75"/>
<ellipse cx="303.3333333333333" cy="475.3888888888889" rx="3.7" ry="3.75"/>
<ellipse cx="303.3333333333333" cy="473.0888888888889" rx="3.7" ry="3.75"/>
<ellipse cx="306.26666666666665" cy="474.32222222222225" rx="3.7" ry="3.75"/>
<ellipse cx="306.26666666666665" cy="472.02222222222224" rx="3.7" ry="3.75"/>
<ellipse cx="309.2" cy="472.9" rx="3.7" ry="3.75"/>
<ellipse cx="312.1333333333333" cy="471.1222222222222" rx="3.7" ry="3.75"/>
<ellipse cx="310.6333333333333" cy="469.1222222222222" rx="3.7" ry="3.75"/>
<ellipse cx="315.06666666666666" cy="468.9888888888889" rx="3.7" ry="3.75"/>
<ellipse cx="313.56666666666666" cy="466.9888888888889" rx="3.7" ry="3.75"/>
<ellipse cx="318.0" cy="466.5" rx="3.7" ry="3.75"/>
<ellipse cx="316.5" cy="464.5" rx="3.7" ry="3.75"/>
<rect x="366.2" y="436.7" width="7" height="8"/>
<rect x="361.5" y="447.4" width="7" height="8"/>
<rect x="371.5" y="446.8" width="7" height="8"/>
<rect x="346.0" y="452.1" width="7" height="8"/>
<rect x="387.0" y="456.9" width="7" height="8"/>
<rect x="356.7" y="480.0" width="7" height="8"/>
<rect x="376.3" y="475.9" width="7" height="8"/>
<rect x="366.2" y="486.6" width="7" height="8"/>
<rect x="366.8" y="506.0" width="7" height="8"/>
<rect x="351.5" y="457.0" width="7" height="8"/>
<rect x="357.5" y="457.0" width="7" height="8"/>
<rect x="363.5" y="457.0" width="7" height="8"/>
<rect x="369.5" y="457.0" width="7" height="8"/>
<rect x="375.5" y="457.0" width="7" height="8"/>
<rect x="381.5" y="457.0" width="7" height="8"/>
<rect x="345.5" y="462.0" width="7" height="8"/>
<rect x="351.5" y="462.0" width="7" height="8"/>
<rect x="357.5" y="462.0" width="7" height="8"/>
<rect x="363.5" y="462.0" width="7" height="8"/>
<rect x="369.5" y="462.0" width="7" height="8"/>
<rect x="375.5" y="462.0" width="7" height="8"/>
<rect x="381.5" y="462.0" width="7" height="8"/>
<rect x="387.5" y="462.0" width="7" height="8"/>
<rect x="348.5" y="466.0" width="7" height="8"/>
<rect x="354.5" y="466.0" width="7" height="8"/>
<rect x="360.5" y="466.0" width="7" height="8"/>
<rect x="366.5" y="466.0" width="7" height="8"/>
<rect x="372.5" y="466.0" width="7" height="8"/>
<rect x="378.5" y="466.0" width="7" height="8"/>
<rect x="384.5" y="466.0" width="7" height="8"/>
<rect x="360.5" y="470.5" width="7" height="8"/>
<rect x="366.5" y="470.5" width="7" height="8"/>
<rect x="372.5" y="470.5" width="7" height="8"/>
<path d="M444.3 391.5L447.9 400.0L440.7 400.0Z"/>
<path d="M419.4 431.3L423.0 439.8L415.8 439.8Z"/>
<path d="M431.5 432.4L435.1 440.9L427.9 440.9Z"/>
<path d="M456.9 431.7L460.5 440.2L453.2 440.2Z"/>
<path d="M465.8 428.0L469.4 436.5L462.2 436.5Z"/>
<path d="M423.8 441.3L427.4 449.8L420.2 449.8Z"/>
<path d="M440.4 437.9L444.0 446.4L436.8 446.4Z"/>
<path d="M464.7 440.1L468.3 448.6L461.1 448.6Z"/>
<path d="M431.5 446.8L435.1 455.3L427.9 455.3Z"/>
<path d="M440.4 451.2L444.0 459.7L436.8 459.7Z"/>
<path d="M455.8 451.2L459.4 459.7L452.2 459.7Z"/>
<path d="M454.7 476.6L458.3 485.1L451.1 485.1Z"/>
<path d="M433.7 483.2L437.3 491.7L430.1 491.7Z"/>
<path d="M444.3 485.5L447.9 494.0L440.7 494.0Z"/>
<path d="M444.3 505.3L447.9 513.8L440.7 513.8Z"/>
<path d="M423.0 454.4L426.6 462.9L419.4 462.9Z"/>
<path d="M429.0 454.4L432.6 462.9L425.4 462.9Z"/>
<path d="M435.0 454.4L438.6 462.9L431.4 462.9Z"/>
<path d="M441.0 454.4L444.6 462.9L437.4 462.9Z"/>
<path d="M447.0 454.4L450.6 462.9L443.4 462.9Z"/>
<path d="M453.0 454.4L456.6 462.9L449.4 462.9Z"/>
<path d="M459.0 454.4L462.6 462.9L455.4 462.9Z"/>
<path d="M465.0 454.4L468.6 462.9L461.4 462.9Z"/>
<path d="M426.0 457.9L429.6 466.4L422.4 466.4Z"/>
<path d="M432.0 457.9L435.6 466.4L428.4 466.4Z"/>
<path d="M438.0 457.9L441.6 466.4L434.4 466.4Z"/>
<path d="M444.0 457.9L447.6 466.4L440.4 466.4Z"/>
<path d="M450.0 457.9L453.6 466.4L446.4 466.4Z"/>
<path d="M456.0 457.9L459.6 466.4L452.4 466.4Z"/>
<path d="M462.0 457.9L465.6 466.4L458.4 466.4Z"/>
<path d="M435.0 461.4L438.6 469.9L431.4 469.9Z"/>
<path d="M441.0 461.4L444.6 469.9L437.4 469.9Z"/>
<path d="M447.0 461.4L450.6 469.9L443.4 469.9Z"/>
<path d="M453.0 461.4L456.6 469.9L449.4 469.9Z"/>
<path d="M441.0 464.9L444.6 473.4L437.4 473.4Z"/>
<path d="M447.0 464.9L450.6 473.4L443.4 473.4Z"/>
<path d="M444.0 468.4L447.6 476.9L440.4 476.9Z"/>
</g>
<line x1="366.1" y1="352.4" x2="445" y2="352.4" stroke="#1e1a18" stroke-width="3"/>
<text x="403.7" y="345.5" font-size="20" font-weight="bold" text-anchor="middle" fill="#1e1a18" textLength="5.3" lengthAdjust="spacingAndGlyphs" >*</text>
<line x1="601" y1="331.6" x2="601" y2="517.9" stroke="#3d3531" stroke-width="2"/>
<line x1="600" y1="516.9" x2="851" y2="516.9" stroke="#3d3531" stroke-width="2"/>
<line x1="597" y1="516.9749999999999" x2="601" y2="516.9749999999999" stroke="#3d3531" stroke-width="2"/>
<text x="593.8" y="520.8749999999999" font-size="14.5" font-weight="bold" text-anchor="end" fill="#2b2725" textLength="14.4" lengthAdjust="spacingAndGlyphs" >-20</text>
<line x1="597" y1="470.9" x2="601" y2="470.9" stroke="#3d3531" stroke-width="2"/>
<text x="593.8" y="474.79999999999995" font-size="14.5" font-weight="bold" text-anchor="end" fill="#2b2725" textLength="5.3" lengthAdjust="spacingAndGlyphs" >0</text>
<line x1="597" y1="424.825" x2="601" y2="424.825" stroke="#3d3531" stroke-width="2"/>
<text x="593.8" y="428.72499999999997" font-size="14.5" font-weight="bold" text-anchor="end" fill="#2b2725" textLength="10.6" lengthAdjust="spacingAndGlyphs" >20</text>
<line x1="597" y1="378.75" x2="601" y2="378.75" stroke="#3d3531" stroke-width="2"/>
<text x="593.8" y="382.65" font-size="14.5" font-weight="bold" text-anchor="end" fill="#2b2725" textLength="10.6" lengthAdjust="spacingAndGlyphs" >40</text>
<line x1="597" y1="332.675" x2="601" y2="332.675" stroke="#3d3531" stroke-width="2"/>
<text x="593.8" y="336.575" font-size="14.5" font-weight="bold" text-anchor="end" fill="#2b2725" textLength="10.6" lengthAdjust="spacingAndGlyphs" >60</text>
<line x1="652.3" y1="516.9" x2="652.3" y2="520.9" stroke="#3d3531" stroke-width="1.5"/>
<text x="652.3" y="536" font-size="14.5" font-weight="bold" text-anchor="middle" fill="#161311" textLength="68.5" lengthAdjust="spacingAndGlyphs" stroke="#161311" stroke-width="0.12">Positive Con</text>
<line x1="725.9" y1="516.9" x2="725.9" y2="520.9" stroke="#3d3531" stroke-width="1.5"/>
<text x="725.9" y="536" font-size="14.5" font-weight="bold" text-anchor="middle" fill="#161311" textLength="46" lengthAdjust="spacingAndGlyphs" stroke="#161311" stroke-width="0.12">1% EtOH</text>
<line x1="800" y1="516.9" x2="800" y2="520.9" stroke="#3d3531" stroke-width="1.5"/>
<text x="800" y="536" font-size="14.5" font-weight="bold" text-anchor="middle" fill="#161311" textLength="40.5" lengthAdjust="spacingAndGlyphs" stroke="#161311" stroke-width="0.12">BTEX-K</text>
<text x="726.5" y="567" font-size="15" font-weight="bold" text-anchor="middle" fill="#0e0c0b" textLength="54" lengthAdjust="spacingAndGlyphs" >Dentin 5</text>
<text x="564.8" y="426" font-size="15.5" font-weight="normal" stroke="#161311" stroke-width="0.3" text-anchor="middle" fill="#161311" transform="rotate(-90 564.8 426)" dominant-baseline="central" textLength="59" lengthAdjust="spacingAndGlyphs">Hv(25gf)</text>
<line x1="713.1999999999999" y1="432.9" x2="737.4" y2="432.9" stroke="#3a3430" stroke-width="2"/>
<line x1="713.1999999999999" y1="472.4" x2="737.4" y2="472.4" stroke="#3a3430" stroke-width="2"/>
<line x1="725.3" y1="432.9" x2="725.3" y2="472.4" stroke="#3a3430" stroke-width="1.5"/>
<g fill="#000">
<ellipse cx="651.5" cy="452.5" rx="3.7" ry="3.75"/>
<ellipse cx="647" cy="456.5" rx="3.7" ry="3.75"/>
<ellipse cx="656" cy="456.5" rx="3.7" ry="3.75"/>
<ellipse cx="647.5" cy="461" rx="3.7" ry="3.75"/>
<ellipse cx="655.5" cy="461" rx="3.7" ry="3.75"/>
<ellipse cx="651.5" cy="464.5" rx="3.7" ry="3.75"/>
<ellipse cx="651.5" cy="459" rx="3.7" ry="3.75"/>
<ellipse cx="630" cy="453.5" rx="3.7" ry="3.75"/>
<ellipse cx="630" cy="455.8" rx="3.7" ry="3.75"/>
<ellipse cx="634" cy="453.6488372093023" rx="3.7" ry="3.75"/>
<ellipse cx="634" cy="456.1720930232558" rx="3.7" ry="3.75"/>
<ellipse cx="638" cy="453.7976744186047" rx="3.7" ry="3.75"/>
<ellipse cx="638" cy="456.54418604651164" rx="3.7" ry="3.75"/>
<ellipse cx="642" cy="453.946511627907" rx="3.7" ry="3.75"/>
<ellipse cx="642" cy="456.9162790697674" rx="3.7" ry="3.75"/>
<ellipse cx="646" cy="454.0953488372093" rx="3.7" ry="3.75"/>
<ellipse cx="646" cy="457.28837209302327" rx="3.7" ry="3.75"/>
<ellipse cx="650" cy="454.24418604651163" rx="3.7" ry="3.75"/>
<ellipse cx="650" cy="457.66046511627906" rx="3.7" ry="3.75"/>
<ellipse cx="654" cy="454.2069767441861" rx="3.7" ry="3.75"/>
<ellipse cx="654" cy="457.5674418604651" rx="3.7" ry="3.75"/>
<ellipse cx="658" cy="454.0581395348837" rx="3.7" ry="3.75"/>
<ellipse cx="658" cy="457.19534883720934" rx="3.7" ry="3.75"/>
<ellipse cx="662" cy="453.9093023255814" rx="3.7" ry="3.75"/>
<ellipse cx="662" cy="456.8232558139535" rx="3.7" ry="3.75"/>
<ellipse cx="666" cy="453.7604651162791" rx="3.7" ry="3.75"/>
<ellipse cx="666" cy="456.4511627906977" rx="3.7" ry="3.75"/>
<ellipse cx="670" cy="453.61162790697676" rx="3.7" ry="3.75"/>
<ellipse cx="670" cy="456.07906976744187" rx="3.7" ry="3.75"/>
<ellipse cx="672.5" cy="453.5186046511628" rx="3.7" ry="3.75"/>
<ellipse cx="672.5" cy="455.846511627907" rx="3.7" ry="3.75"/>
<rect x="721.8" y="345.0" width="7" height="8"/>
<rect x="701.0" y="446.5" width="7" height="8"/>
<rect x="701.0" y="451.2" width="7" height="8"/>
<rect x="707.0" y="446.9" width="7" height="8"/>
<rect x="707.0" y="451.3" width="7" height="8"/>
<rect x="713.0" y="447.4" width="7" height="8"/>
<rect x="713.0" y="451.4" width="7" height="8"/>
<rect x="719.0" y="447.8" width="7" height="8"/>
<rect x="719.0" y="451.5" width="7" height="8"/>
<rect x="725.0" y="447.8" width="7" height="8"/>
<rect x="725.0" y="451.5" width="7" height="8"/>
<rect x="731.0" y="447.3" width="7" height="8"/>
<rect x="731.0" y="451.4" width="7" height="8"/>
<rect x="737.0" y="446.9" width="7" height="8"/>
<rect x="737.0" y="451.3" width="7" height="8"/>
<rect x="743.0" y="446.5" width="7" height="8"/>
<rect x="743.0" y="451.2" width="7" height="8"/>
<rect x="715.5" y="456.0" width="7" height="8"/>
<rect x="721.5" y="457.0" width="7" height="8"/>
<rect x="727.5" y="456.0" width="7" height="8"/>
<rect x="718.5" y="460.0" width="7" height="8"/>
<rect x="724.5" y="460.0" width="7" height="8"/>
<rect x="721.5" y="461.5" width="7" height="8"/>
<path d="M778.8 450.3L782.4 458.8L775.1 458.8Z"/>
<path d="M791.0 455.7L794.6 464.2L787.4 464.2Z"/>
<path d="M802.6 459.8L806.2 468.3L799.0 468.3Z"/>
<path d="M813.4 454.3L817.0 462.8L809.8 462.8Z"/>
<path d="M820.9 449.6L824.5 458.1L817.2 458.1Z"/>
<path d="M785.0 452.9L788.6 461.4L781.4 461.4Z"/>
<path d="M797.0 457.9L800.6 466.4L793.4 466.4Z"/>
<path d="M808.0 457.4L811.6 465.9L804.4 465.9Z"/>
<path d="M817.0 451.9L820.6 460.4L813.4 460.4Z"/>
<path d="M779.0 443.3L782.6 451.8L775.4 451.8Z"/>
<path d="M780.7 446.6L784.4 455.1L777.1 455.1Z"/>
<path d="M782.5 444.6L786.1 453.1L778.9 453.1Z"/>
<path d="M784.2 447.9L787.9 456.4L780.6 456.4Z"/>
<path d="M786.0 445.6L789.6 454.1L782.4 454.1Z"/>
<path d="M787.7 448.9L791.4 457.4L784.1 457.4Z"/>
<path d="M789.5 446.4L793.1 454.9L785.9 454.9Z"/>
<path d="M791.2 449.7L794.9 458.2L787.6 458.2Z"/>
<path d="M793.0 446.9L796.6 455.4L789.4 455.4Z"/>
<path d="M794.7 450.2L798.4 458.7L791.1 458.7Z"/>
<path d="M796.5 447.3L800.1 455.8L792.9 455.8Z"/>
<path d="M798.2 450.6L801.9 459.1L794.6 459.1Z"/>
<path d="M800.0 447.4L803.6 455.9L796.4 455.9Z"/>
<path d="M801.7 450.7L805.4 459.2L798.1 459.2Z"/>
<path d="M803.5 447.3L807.1 455.8L799.9 455.8Z"/>
<path d="M805.2 450.6L808.9 459.1L801.6 459.1Z"/>
<path d="M807.0 446.9L810.6 455.4L803.4 455.4Z"/>
<path d="M808.7 450.2L812.4 458.7L805.1 458.7Z"/>
<path d="M810.5 446.4L814.1 454.9L806.9 454.9Z"/>
<path d="M812.2 449.7L815.9 458.2L808.6 458.2Z"/>
<path d="M814.0 445.6L817.6 454.1L810.4 454.1Z"/>
<path d="M815.7 448.9L819.4 457.4L812.1 457.4Z"/>
<path d="M817.5 444.6L821.1 453.1L813.9 453.1Z"/>
<path d="M819.2 447.9L822.9 456.4L815.6 456.4Z"/>
<path d="M821.0 443.3L824.6 451.8L817.4 451.8Z"/>
<path d="M821.0 446.6L824.6 455.1L817.4 455.1Z"/>
</g>
</g>
</svg>
</body></html>
